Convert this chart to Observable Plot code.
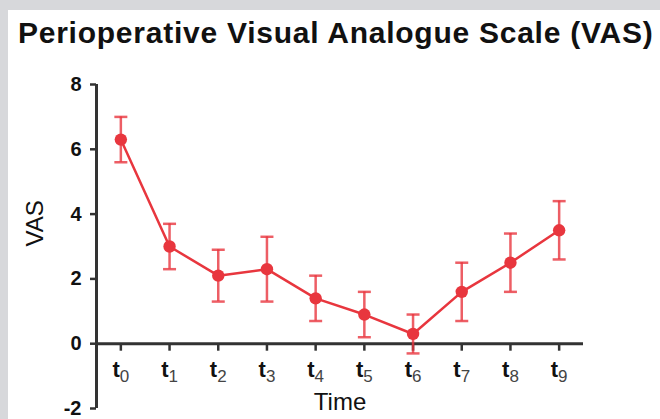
<!DOCTYPE html>
<html>
<head>
<meta charset="utf-8">
<script src="https://cdn.jsdelivr.net/npm/d3@7"></script>
<script src="https://cdn.jsdelivr.net/npm/@observablehq/plot@0.6"></script>
<style>
  html, body { margin: 0; padding: 0; }
  body { width: 660px; height: 419px; background: #d7d8db; position: relative; overflow: hidden;
         font-family: "Liberation Sans", Arial, Helvetica, sans-serif; }
  #panel { position: absolute; left: 8px; top: 10px; width: 652px; height: 409px; background: #fff; }
  #title { position: absolute; left: 10px; top: 8px; font-size: 30px; line-height: 30px; font-weight: bold;
           letter-spacing: 0.75px; color: #111; white-space: nowrap; }
  #chart { position: absolute; left: 0; top: 50px; }
</style>
</head>
<body>
<div id="panel">
  <div id="title">Perioperative Visual Analogue Scale (VAS)</div>
  <div id="chart"></div>
</div>
<script>
// ---- data ----
const timeLabels = ["t0", "t1", "t2", "t3", "t4", "t5", "t6", "t7", "t8", "t9"];
const vasMean = [6.3, 3.0, 2.1, 2.3, 1.4, 0.9, 0.3, 1.6, 2.5, 3.5];
const vasLow  = [5.6, 2.3, 1.3, 1.3, 0.7, 0.2, -0.3, 0.7, 1.6, 2.6];
const vasHigh = [7.0, 3.7, 2.9, 3.3, 2.1, 1.6, 0.9, 2.5, 3.4, 4.4];
const yTicks = [-2, 0, 2, 4, 6, 8];
const yDomain = [-2, 8];
const xDomain = [-0.5, timeLabels.length - 0.5];

const data = timeLabels.map((t, i) => ({ t, i, mean: vasMean[i], low: vasLow[i], high: vasHigh[i] }));

const red = "#e8363e";
const axisColor = "#333";

const capSymbol = { draw(ctx) { ctx.moveTo(-6.5, 0); ctx.lineTo(6.5, 0); } };
const downTick = { draw(ctx) { ctx.moveTo(0, 0); ctx.lineTo(0, 7); } };

const plot = Plot.plot({
  width: 652,
  height: 359,
  marginLeft: 88,
  marginRight: 77,
  marginTop: 24,
  marginBottom: 11,
  style: { fontFamily: "'Liberation Sans', Arial, Helvetica, sans-serif", background: "transparent", overflow: "visible" },
  x: { type: "linear", domain: xDomain, axis: null },
  y: { domain: yDomain, axis: null },
  marks: [
    // axes lines
    Plot.ruleY([0], { stroke: axisColor, strokeWidth: 3 }),
    Plot.ruleX([xDomain[0]], { y1: yDomain[0], y2: yDomain[1], stroke: axisColor, strokeWidth: 3 }),
    Plot.axisY({ ticks: yTicks, tickFormat: (d) => String(d), tickSize: 6, tickPadding: 9, stroke: axisColor,
                 strokeWidth: 2.5, fontSize: 20, fontWeight: "bold", fill: "#111" }),
    // x ticks and labels at y = 0
    Plot.dot(data, { x: "i", y: 0, symbol: downTick, stroke: axisColor, strokeWidth: 2.5, fill: "none" }),
    Plot.text(data, { x: "i", y: 0, text: "t", dy: 26, fontSize: 22, fontWeight: "bold", fill: "#111" }),
    // error bars
    Plot.ruleX(data, { x: "i", y1: "low", y2: "high", stroke: red, strokeWidth: 2.5, strokeOpacity: 0.8 }),
    Plot.dot(data, { x: "i", y: "low", symbol: capSymbol, stroke: red, strokeWidth: 2.5, strokeOpacity: 0.8, fill: "none" }),
    Plot.dot(data, { x: "i", y: "high", symbol: capSymbol, stroke: red, strokeWidth: 2.5, strokeOpacity: 0.8, fill: "none" }),
    // mean line and points
    Plot.line(data, { x: "i", y: "mean", stroke: red, strokeWidth: 2.5 }),
    Plot.dot(data, { x: "i", y: "mean", r: 6.2, fill: red }),
    // axis titles
    Plot.text(["VAS"], { frameAnchor: "left", dx: -61, rotate: -90, fontSize: 24, fill: "#111" }),
    Plot.text(["Time"], { frameAnchor: "bottom", dy: 1, fontSize: 24, fill: "#111" })
  ]
});

// subscripts for the time labels
d3.select(plot).selectAll("text").each(function () {
  const txt = this.textContent;
  const m = /^t(\d+)$/.exec(txt);
  if (!m) return;
  const el = d3.select(this);
  el.text("");
  el.append("tspan").text("t");
  el.append("tspan").attr("dy", "0.3em").attr("font-size", 17).attr("font-weight", "normal")
    .attr("fill", "#444").text(m[1]);
});

document.getElementById("chart").appendChild(plot);
</script>
</body>
</html>
